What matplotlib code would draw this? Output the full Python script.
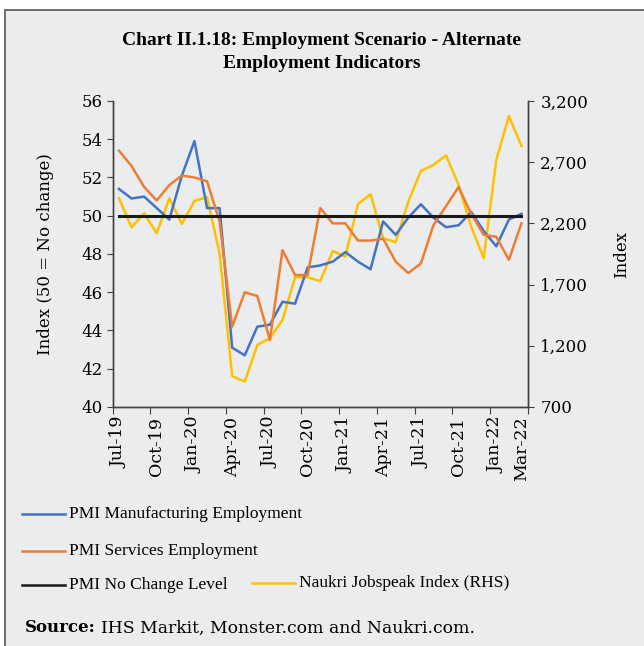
import matplotlib
matplotlib.use("Agg")
import matplotlib.pyplot as plt
import numpy as np
from matplotlib.lines import Line2D
from matplotlib.patches import Rectangle
from matplotlib.ticker import FixedLocator, FuncFormatter

months = ["Jul-19", "Aug-19", "Sep-19", "Oct-19", "Nov-19", "Dec-19", "Jan-20", "Feb-20",
          "Mar-20", "Apr-20", "May-20", "Jun-20", "Jul-20", "Aug-20", "Sep-20", "Oct-20",
          "Nov-20", "Dec-20", "Jan-21", "Feb-21", "Mar-21", "Apr-21", "May-21", "Jun-21",
          "Jul-21", "Aug-21", "Sep-21", "Oct-21", "Nov-21", "Dec-21", "Jan-22", "Feb-22",
          "Mar-22"]

pmi_manufacturing = [51.4, 50.9, 51.0, 50.4, 49.8, 52.1, 53.9, 50.4, 50.4, 43.1, 42.7,
                     44.2, 44.3, 45.5, 45.4, 47.3, 47.4, 47.6, 48.1, 47.6, 47.2, 49.7,
                     49.0, 49.9, 50.6, 49.9, 49.4, 49.5, 50.2, 49.2, 48.4, 49.8, 50.1]

pmi_services = [53.4, 52.6, 51.5, 50.8, 51.6, 52.1, 52.0, 51.8, 49.7, 44.2, 46.0,
                45.8, 43.5, 48.2, 46.9, 46.9, 50.4, 49.6, 49.6, 48.7, 48.7, 48.8,
                47.6, 47.0, 47.5, 49.5, 50.5, 51.5, 50.1, 49.0, 48.9, 47.7, 49.6]

no_change = [50.0] * len(months)

naukri = [2405, 2168, 2282, 2119, 2405, 2195, 2383, 2415, 1950, 953, 907,
          1207, 1261, 1411, 1760, 1760, 1728, 1975, 1928, 2358, 2438, 2078,
          2046, 2377, 2628, 2677, 2756, 2514, 2173, 1915, 2718, 3077, 2832]

label_idx = [0, 3, 6, 9, 12, 15, 18, 21, 24, 27, 30, 32]
left_ticks = [40, 42, 44, 46, 48, 50, 52, 54, 56]
right_ticks = [700, 1200, 1700, 2200, 2700, 3200]

BG = "#EBECEE"
SPINE = "#404040"
TEXT_FONT = ["Liberation Serif", "DejaVu Serif"]
plt.rcParams["font.family"] = ["DejaVu Serif"]

fig = plt.figure(figsize=(6.44, 6.46), dpi=100)
fig.patch.set_facecolor("white")
fig.add_artist(Rectangle((5 / 644, -0.01), 1.0, 1 - 10 / 646 + 0.01,
                         transform=fig.transFigure, facecolor=BG,
                         edgecolor="#555555", linewidth=1.2, zorder=0))

ax = fig.add_axes([0.175, 0.370, 0.6445, 0.4737])
ax.set_facecolor("none")
x = np.arange(len(months))

ax.plot(x, pmi_manufacturing, color="#4472C4", linewidth=1.8, zorder=3)
ax.plot(x, pmi_services, color="#ED7D31", linewidth=1.8, zorder=3)
ax.plot(x, no_change, color="#1a1a1a", linewidth=2.2, zorder=4)
ax.set_ylim(40, 56)
ax.set_xlim(-0.5, len(months) - 0.5)
ax.set_yticks(left_ticks)
ax.tick_params(axis="y", labelsize=12, length=4, color=SPINE, pad=3)

ax.xaxis.set_major_locator(FixedLocator(np.arange(-0.5, len(months), 3)))
ax.xaxis.set_major_formatter(FuncFormatter(lambda v, p: ""))
ax.xaxis.set_minor_locator(FixedLocator(label_idx))
ax.set_xticklabels([months[i] for i in label_idx], minor=True, rotation=90)
ax.tick_params(axis="x", which="major", length=5, color=SPINE)
ax.tick_params(axis="x", which="minor", length=0, labelsize=12.5, pad=7)
ax.set_ylabel("Index (50 = No change)", fontsize=12, labelpad=20)

ax2 = ax.twinx()
ax2.plot(x, naukri, color="#FFC000", linewidth=1.8, zorder=2)
ax2.set_ylim(700, 3200)
ax2.set_yticks(right_ticks)
ax2.yaxis.set_major_formatter(FuncFormatter(lambda v, p: f"{v:,.0f}"))
ax2.tick_params(axis="y", labelsize=12, length=4, color=SPINE, pad=5)
ax2.set_ylabel("Index", fontsize=12, labelpad=18)

for a in (ax, ax2):
    a.spines["top"].set_visible(False)
    for s in ("left", "right", "bottom"):
        a.spines[s].set_color(SPINE)
        a.spines[s].set_linewidth(1.0)
ax.set_zorder(ax2.get_zorder() + 1)

fig.text(0.5, 1 - 52 / 646, "Chart II.1.18: Employment Scenario - Alternate\nEmployment Indicators",
         ha="center", va="center", fontsize=14, fontweight="bold", linespacing=1.4,
         family=TEXT_FONT)

legend_items = [
    ("PMI Manufacturing Employment", "#4472C4", 22, 514),
    ("PMI Services Employment", "#ED7D31", 22, 551),
    ("PMI No Change Level", "#1a1a1a", 22, 585),
    ("Naukri Jobspeak Index (RHS)", "#FFC000", 252, 583),
]
for label, color, lx, ly in legend_items:
    yf = 1 - ly / 646
    fig.add_artist(Line2D([lx / 644, (lx + 43) / 644], [yf, yf], color=color,
                          linewidth=1.8, transform=fig.transFigure))
    fig.text((lx + 47) / 644, yf, label, ha="left", va="center", fontsize=12.5,
             family=TEXT_FONT)

src_y = 1 - 628 / 646
fig.text(25 / 644, src_y, "Source:", ha="left", va="center", fontsize=12,
         fontweight="bold", family="DejaVu Serif")
fig.text(101 / 644, src_y, "IHS Markit, Monster.com and Naukri.com.", ha="left",
         va="center", fontsize=12.4, family="DejaVu Serif")

fig.savefig("out.png", dpi=100, facecolor=fig.get_facecolor())
